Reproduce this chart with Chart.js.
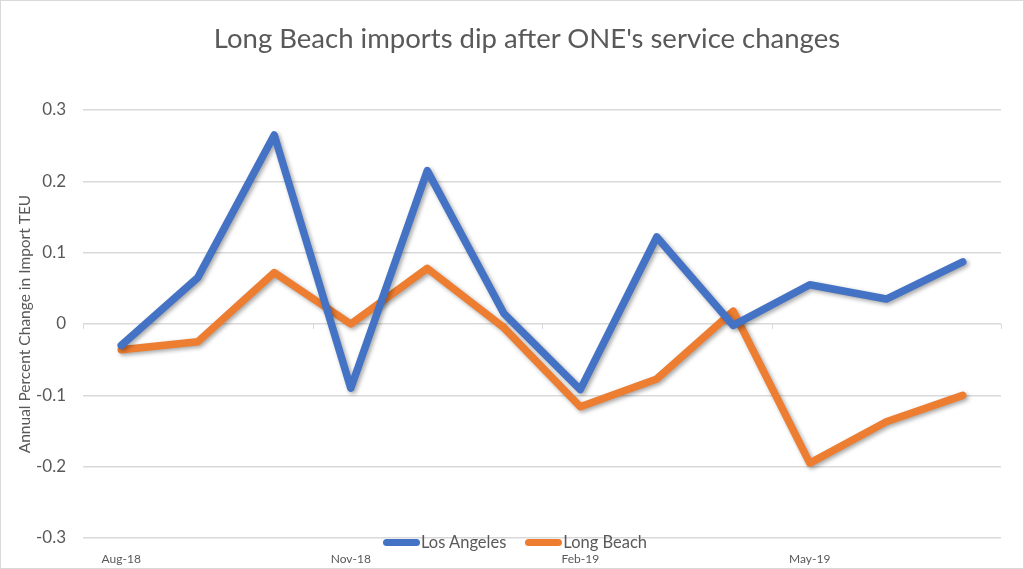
<!DOCTYPE html>
<html>
<head>
<meta charset="utf-8">
<script src="https://cdn.jsdelivr.net/npm/chart.js@4"></script>
<style>
  html, body { margin: 0; padding: 0; background: #fff; }
  #wrap { position: relative; width: 1024px; height: 569px; }
  #frame { position: absolute; left: 0; top: 0; width: 1024px; height: 569px; box-sizing: border-box; border: 1px solid #d9d9d9; pointer-events: none; }
  #title { position: absolute; left: 30px; width: 994px; top: 21px; text-align: center; font-family: Lato, "Open Sans", sans-serif; font-size: 27.5px; color: #595959; white-space: nowrap; pointer-events: none; }
  #legend { position: absolute; left: 383px; top: 532px; display: flex; font-family: Lato, "Open Sans", sans-serif; font-size: 16.5px; color: #595959; pointer-events: none; }
  .item { display: flex; align-items: center; margin-right: 19px; }
  .swatch { width: 37px; height: 7px; border-radius: 4px; margin-right: 1px; }
</style>
</head>
<body>
<div id="wrap">
  <canvas id="c"></canvas>
  <div id="title"></div>
  <div id="legend"></div>
  <div id="frame"></div>
</div>
<script>
const chartTitle = "Long Beach imports dip after ONE's service changes";
const yAxisTitle = "Annual Percent Change in Import TEU";
const categories = ["Aug-18","Sep-18","Oct-18","Nov-18","Dec-18","Jan-19","Feb-19","Mar-19","Apr-19","May-19","Jun-19","Jul-19"];
const losAngeles = [-0.030, 0.065, 0.265, -0.090, 0.215, 0.015, -0.092, 0.122, -0.002, 0.055, 0.035, 0.087];
const longBeach  = [-0.036, -0.025, 0.072, 0.000, 0.078, -0.005, -0.116, -0.077, 0.018, -0.195, -0.137, -0.100];
const seriesNames = ["Los Angeles", "Long Beach"];
const seriesColors = ["#4472C4", "#ED7D31"];
const yTicks = [-0.3, -0.2, -0.1, 0, 0.1, 0.2, 0.3];
const shownLabelEvery = 3;

const shadowPlugin = {
  id: 'shadow',
  beforeDatasetDraw(chart) {
    const ctx = chart.ctx;
    ctx.save();
    ctx.shadowColor = 'rgba(0,0,0,0.35)';
    ctx.shadowBlur = 4;
    ctx.shadowOffsetX = 2;
    ctx.shadowOffsetY = 2;
  },
  afterDatasetDraw(chart) { chart.ctx.restore(); }
};

const zeroTicksPlugin = {
  id: 'zeroTicks',
  beforeDatasetsDraw(chart) {
    const x = chart.scales.x, y = chart.scales.y, ctx = chart.ctx;
    const y0 = y.getPixelForValue(0);
    const step = (x.getPixelForValue(1) - x.getPixelForValue(0));
    ctx.save();
    ctx.strokeStyle = '#d9d9d9';
    ctx.lineWidth = 1;
    for (let i = 0; i <= categories.length; i += shownLabelEvery) {
      const px = Math.round(x.getPixelForValue(0) - step / 2 + i * step) + 0.5;
      ctx.beginPath();
      ctx.moveTo(px, y0);
      ctx.lineTo(px, y0 + 5);
      ctx.stroke();
    }
    ctx.restore();
  }
};

const ctxEl = document.getElementById('c');
new Chart(ctxEl, {
  type: 'line',
  data: {
    labels: categories,
    datasets: [
      { label: seriesNames[0], data: losAngeles, borderColor: seriesColors[0], backgroundColor: seriesColors[0], borderWidth: 7.5, pointRadius: 0, tension: 0, borderJoinStyle: 'round', borderCapStyle: 'round' },
      { label: seriesNames[1], data: longBeach, borderColor: seriesColors[1], backgroundColor: seriesColors[1], borderWidth: 7.5, pointRadius: 0, tension: 0, borderJoinStyle: 'round', borderCapStyle: 'round' }
    ]
  },
  options: {
    responsive: true,
    maintainAspectRatio: false,
    animation: false,
    layout: { padding: { left: 0, right: 23, top: 110, bottom: 0 } },
    plugins: {
      legend: { display: false },
      tooltip: { enabled: false },
      title: { display: false }
    },
    scales: {
      x: {
        offset: true,
        grid: { display: false, drawTicks: false },
        border: { display: false },
        ticks: {
          color: '#595959',
          font: { family: 'Lato, "Open Sans", sans-serif', size: 12 },
          padding: 14,
          maxRotation: 0,
          autoSkip: false,
          callback: function(v, i) { return i % shownLabelEvery === 0 ? categories[i] : ''; }
        },
        afterFit(scale) { scale.height = 31; }
      },
      y: {
        min: -0.3, max: 0.3,
        afterBuildTicks(scale) { scale.ticks = yTicks.map(v => ({ value: v })); },
        grid: { color: '#d9d9d9', lineWidth: 1.5, drawTicks: false },
        border: { display: false },
        ticks: {
          color: '#595959',
          font: { family: 'Lato, "Open Sans", sans-serif', size: 17 },
          padding: 17,
          callback: v => (Math.round(v * 10) / 10).toString()
        },
        title: {
          display: true,
          text: yAxisTitle,
          color: '#595959',
          font: { family: 'Lato, "Open Sans", sans-serif', size: 15.5 },
          padding: { top: 16, bottom: 0 }
        },
        afterFit(scale) { scale.width = 83; }
      }
    }
  },
  plugins: [shadowPlugin, zeroTicksPlugin]
});

document.getElementById('title').textContent = chartTitle;
const legend = document.getElementById('legend');
seriesNames.forEach((n, i) => {
  const it = document.createElement('div');
  it.className = 'item';
  const sw = document.createElement('span');
  sw.className = 'swatch';
  sw.style.background = seriesColors[i];
  const tx = document.createElement('span');
  tx.textContent = n;
  it.appendChild(sw); it.appendChild(tx);
  legend.appendChild(it);
});
</script>
</body>
</html>
